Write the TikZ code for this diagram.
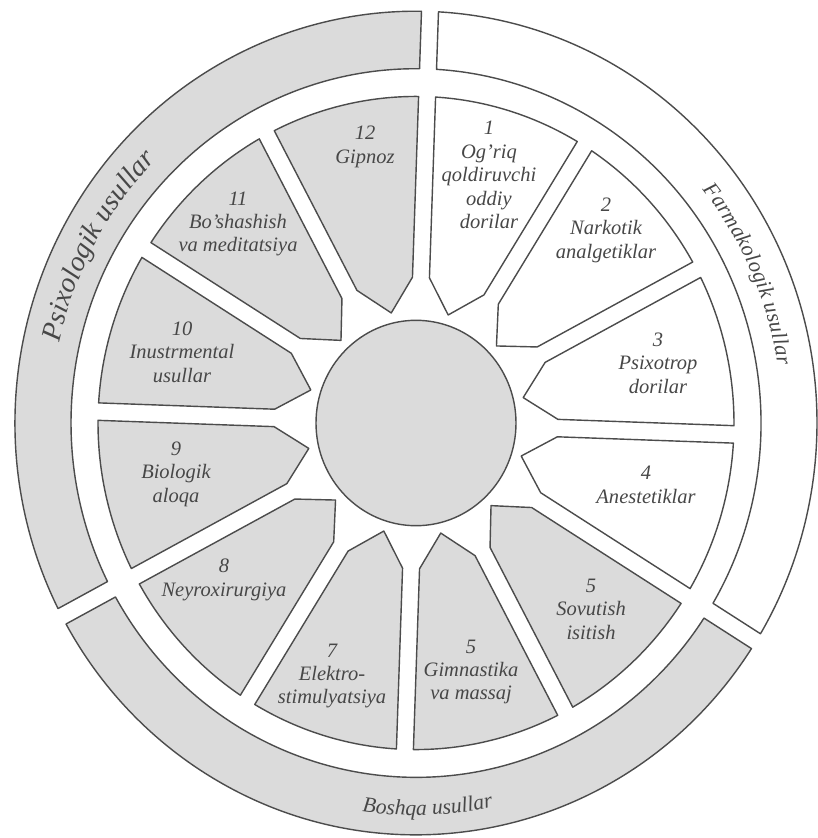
\documentclass[tikz,border=0pt]{standalone}
\usepackage{fontspec}
\setmainfont{Liberation Serif}
\definecolor{segfill}{gray}{0.86}
\definecolor{edge}{gray}{0.3}
\definecolor{txt}{gray}{0.28}
\newcommand\seglabfont{\fontsize{17.5}{20}\selectfont\itshape}
\newcommand\bigringfont{\fontsize{24}{24}\selectfont\itshape}
\newcommand\ringfont{\fontsize{18.5}{18.5}\selectfont\itshape}
% #1 radius, #2 start angle, #3 direction (+1 ccw, -1 cw), #4 em in px,
% #5 font, #6 name prefix, #7 list char/width/gap-before (1/1000 em)
\newcommand\arclabel[7]{%
  \gdef\cumw{0}%
  \pgfmathsetmacro\degper{#4*57.2958/1000/#1}%
  \foreach \ch/\w/\pre [count=\k] in {#7} {%
    \pgfmathsetmacro\ang{#2+#3*((\cumw+\pre+\w/2)*\degper)}%
    \pgfmathsetmacro\rot{\ang+#3*90}%
    \node[ringch, font=#5, rotate=\rot] (#6\k) at (\ang:#1) {\ch};
    \pgfmathsetmacro\newcum{\cumw+\pre+\w}%
    \global\let\cumw\newcum
  }%
}
\begin{document}
\begin{tikzpicture}[x=0.03cm, y=-0.03cm,
  seg/.style={draw=edge, line width=1.2pt, line join=round},
  lab/.style={text=txt, font=\seglabfont, align=center, inner sep=0pt},
  ringch/.style={text=txt, inner sep=0pt, anchor=base},
]
\fill[white] (0,0) rectangle (818,838);
\useasboundingbox (0,0) rectangle (818,838);
\begin{scope}[shift={(416,423)}, x=0.03cm, y=0.03081cm]
  \def\hgap{8.5}
  \def\rseg{318}
  \def\rbend{142}
  \def\rtip{110}
  \def\rin{345}
  \def\rout{401}
  % outer rings
  \foreach \a/\b/\col in {88/-32/white, -32/-152/segfill, 208/88/segfill} {
    \filldraw[seg, fill=\col]
      ({\a-asin(\hgap/\rout)}:\rout)
      arc[start angle={\a-asin(\hgap/\rout)}, end angle={\b+asin(\hgap/\rout)}, radius=\rout]
      -- ({\b+asin(\hgap/\rin)}:\rin)
      arc[start angle={\b+asin(\hgap/\rin)}, end angle={\a-asin(\hgap/\rin)}, radius=\rin]
      -- cycle;
  }
  % twelve segments
  \foreach \i in {1,...,12} {
    \pgfmathsetmacro\aa{88-30*(\i-1)}
    \pgfmathsetmacro\bb{\aa-30}
    \pgfmathsetmacro\mm{\aa-15}
    \ifnum\i<5 \def\col{white}\else\def\col{segfill}\fi
    \filldraw[seg, fill=\col]
      ({\aa-asin(\hgap/\rseg)}:\rseg)
      arc[start angle={\aa-asin(\hgap/\rseg)}, end angle={\bb+asin(\hgap/\rseg)}, radius=\rseg]
      -- ({\bb+asin(\hgap/\rbend)}:\rbend)
      -- (\mm:\rtip)
      -- ({\aa-asin(\hgap/\rbend)}:\rbend)
      -- cycle;
  }
  % centre disc
  \filldraw[seg, fill=segfill] (0,0) circle[radius=100];
  % ring labels, letter by letter
  \arclabel{365}{167.6}{-1}{28.1}{\bigringfont}{psx}{P/611/0, s/389/0, i/278/0, x/444/0,
    o/500/0, l/278/0, o/500/0, g/500/0, i/278/0, k/444/0, u/500/250, s/389/0, u/500/0,
    l/278/0, l/278/0, a/500/0, r/389/0}
  \arclabel{366}{38.4}{-1}{21.7}{\ringfont}{frm}{F/611/0, a/500/0, r/389/0, m/722/0,
    a/500/0, k/444/0, o/500/0, l/278/0, o/500/0, g/500/0, i/278/0, k/444/0, u/500/250,
    s/389/0, u/500/0, l/278/0, l/278/0, a/500/0, r/389/0}
  \arclabel{382}{261.9}{1}{21.7}{\ringfont}{bsh}{B/611/0, o/500/0, s/389/0, h/500/0,
    q/500/0, a/500/0, u/500/250, s/389/0, u/500/0, l/278/0, l/278/0, a/500/0, r/389/0}
\end{scope}
\node[lab] (t1) at (489,175) {1\\Og'riq\\qoldiruvchi\\oddiy\\dorilar};
\node[lab] (t2) at (606,230) {2\\Narkotik\\analgetiklar};
\node[lab] (t3) at (658,363) {3\\Psixotrop\\dorilar};
\node[lab] (t4) at (646,485) {4\\Anestetiklar};
\node[lab] (t5) at (591,609) {5\\Sovutish\\isitish};
\node[lab] (t6) at (471,672) {5\\Gimnastika\\va massaj};
\node[lab] (t7) at (332,676) {7\\Elektro-\\stimulyatsiya};
\node[lab] (t8) at (224,580) {8\\Neyroxirurgiya};
\node[lab] (t9) at (176,474) {9\\Biologik\\aloqa};
\node[lab] (t10) at (182,352) {10\\Inustrmental\\usullar};
\node[lab] (t11) at (238,224) {11\\Bo'shashish\\va meditatsiya};
\node[lab] (t12) at (365,147) {12\\Gipnoz};
\end{tikzpicture}
\end{document}
